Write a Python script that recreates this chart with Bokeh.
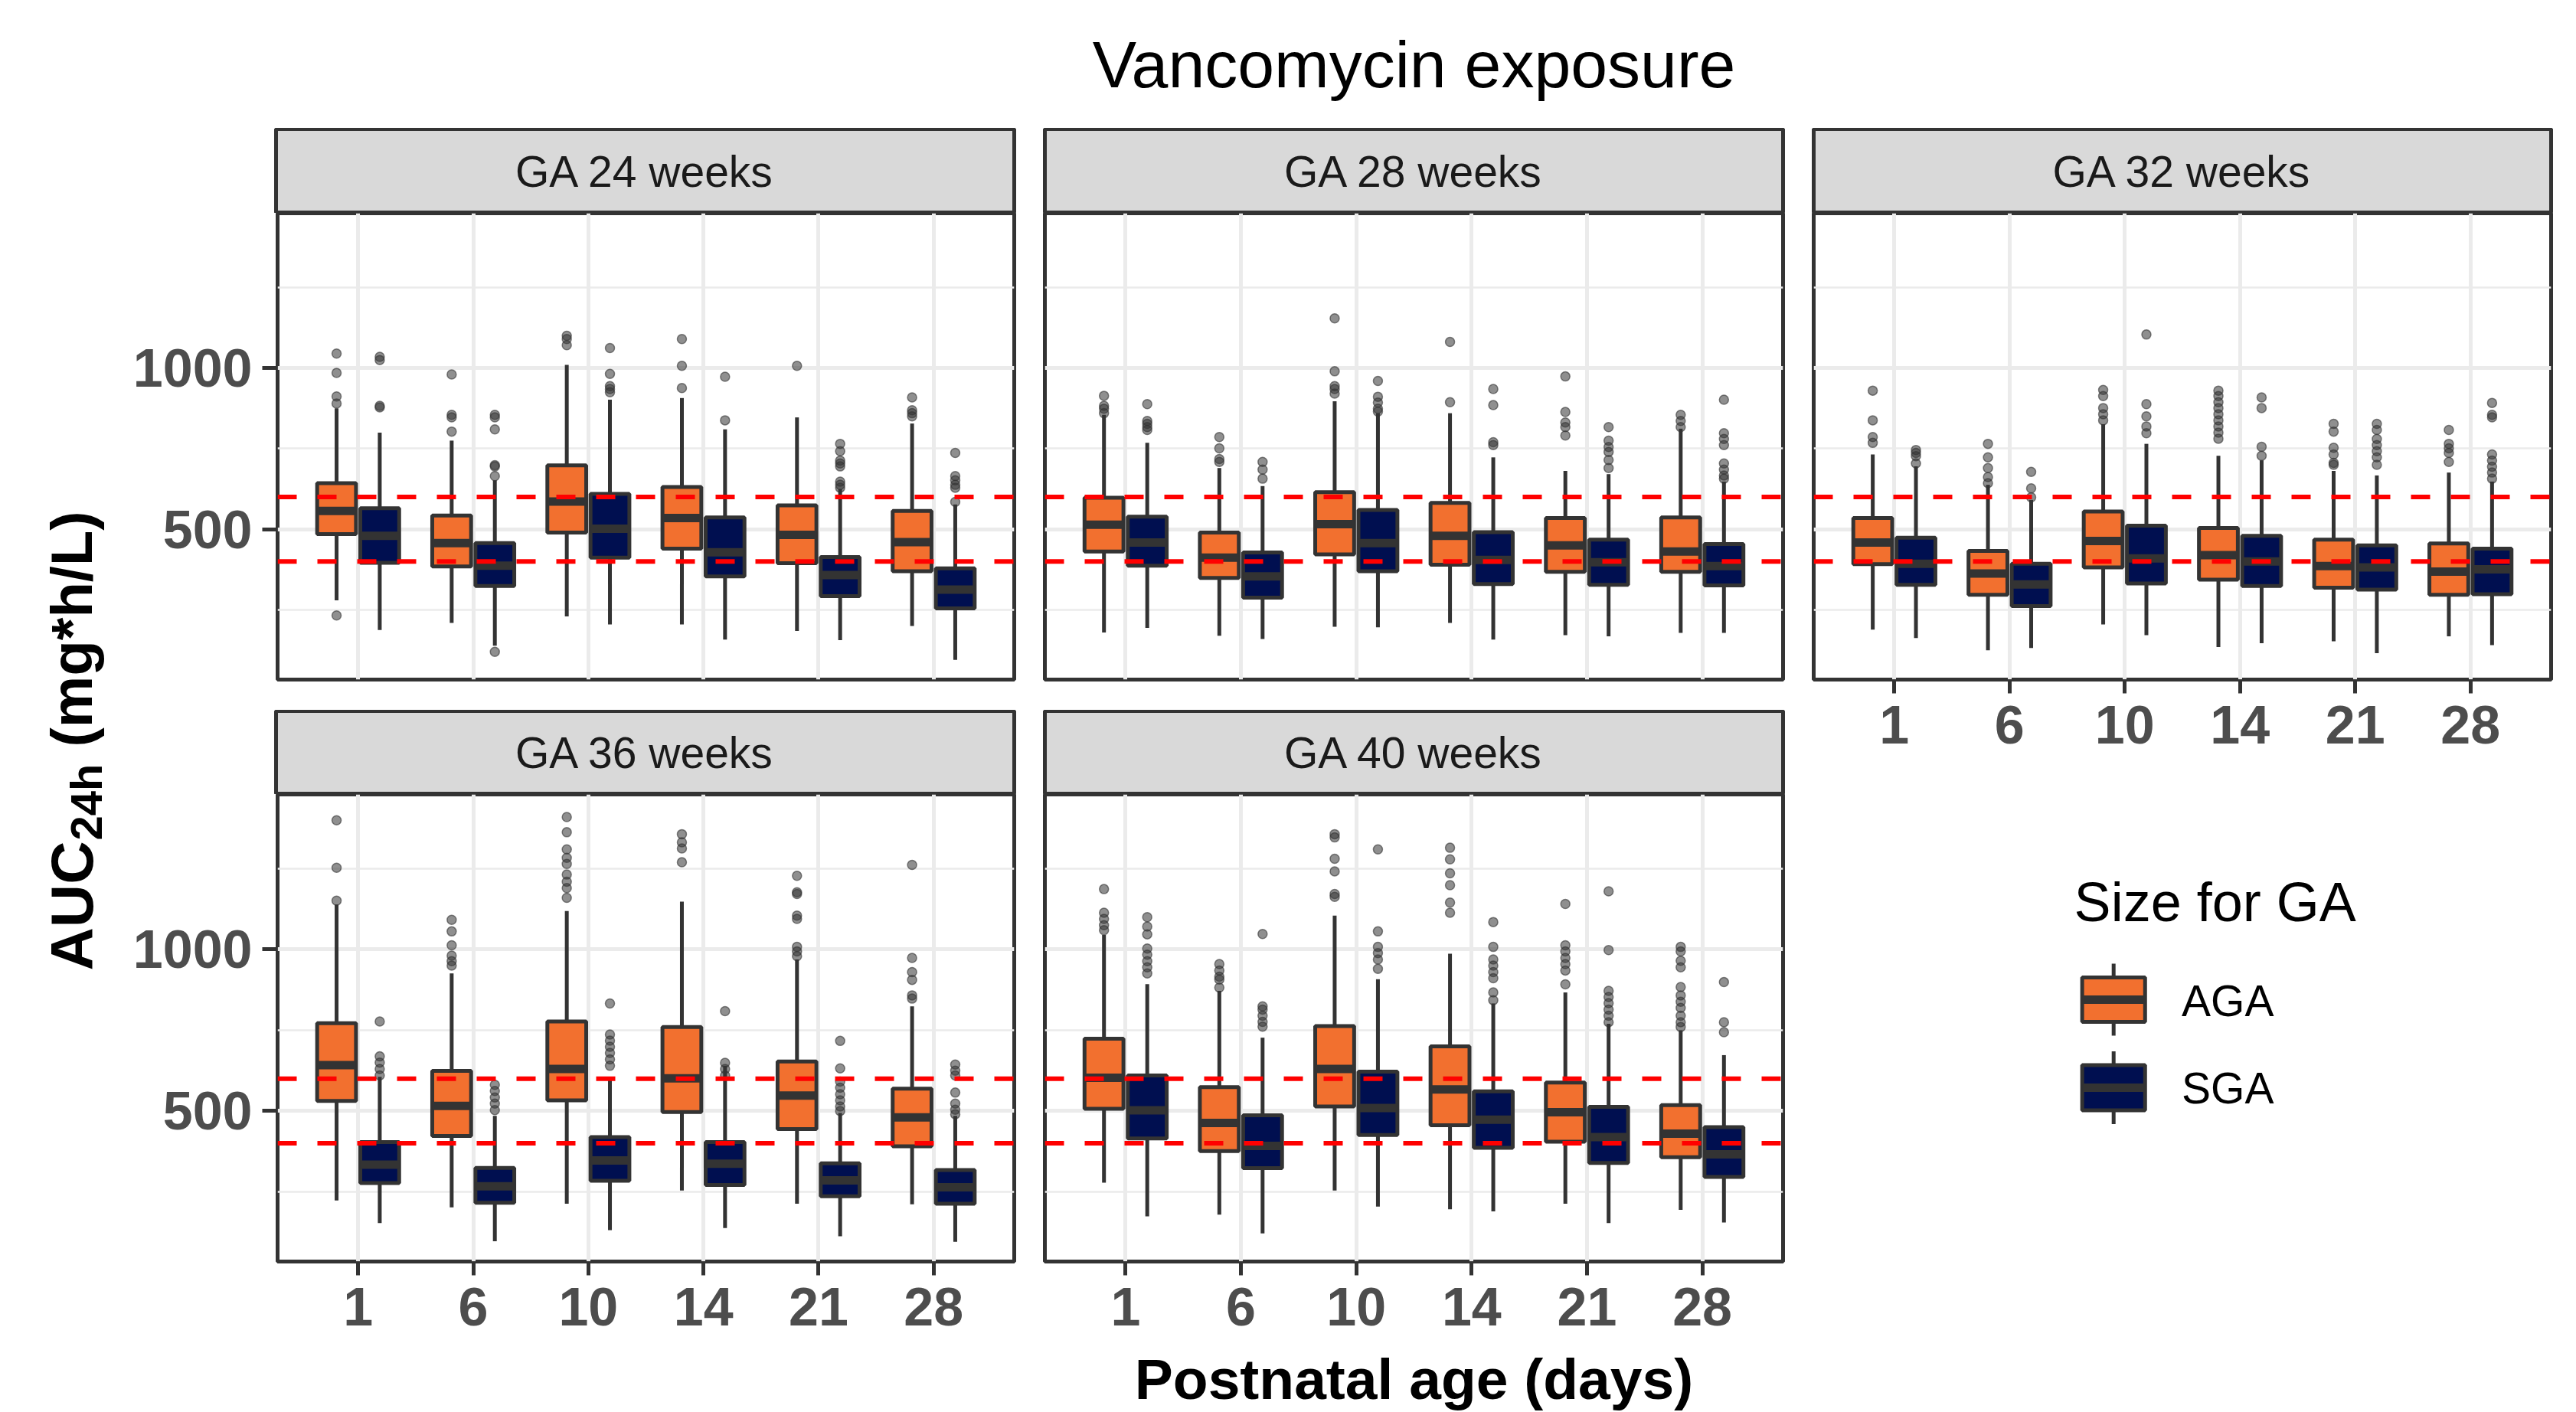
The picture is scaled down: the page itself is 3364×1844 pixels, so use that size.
import math
from bokeh.plotting import figure
from bokeh.models import FactorRange, Range1d, FixedTicker, Span, ColumnDataSource
from bokeh.transform import dodge
from bokeh.layouts import row, column
from bokeh.embed import file_html
from bokeh.resources import INLINE
from bokeh.core.properties import value

# ---------------- data ----------------
days = ["1", "6", "10", "14", "21", "28"]
groups = ["AGA", "SGA"]
facet_labels = ["GA 24 weeks", "GA 28 weeks", "GA 32 weeks", "GA 36 weeks", "GA 40 weeks"]
target_lines = [400, 600]
y_ticks = [500, 1000]
y_minor = [250, 750, 1250]
y_limits = [34, 1480]

# box statistics per postnatal day: low whisker, Q1, median, Q3, high whisker
ga24_aga = dict(low=[280, 210, 230, 205, 185, 200], q1=[485, 385, 490, 440, 395, 370],
                med=[557, 457, 586, 535, 483, 460], q3=[643, 543, 698, 631, 574, 557],
                high=[875, 775, 1010, 907, 847, 828])
ga24_sga = dict(low=[188, 139, 205, 158, 156, 95], q1=[396, 324, 412, 354, 293, 255],
                med=[480, 387, 502, 429, 358, 313], q3=[565, 457, 610, 537, 414, 379],
                high=[800, 652, 902, 810, 624, 577])
ga24_aga_out = [[1045, 985, 912, 890, 233], [980, 855, 847, 803], [1100, 1090, 1071],
                [1090, 1007, 938], [1007], [909, 869, 860, 850]]
ga24_sga_out = [[1035, 1025, 883, 878], [855, 847, 810, 699, 695, 665, 120],
                [1062, 982, 944, 935, 925], [973, 838],
                [765, 742, 713, 704, 695, 648, 638, 629], [737, 665, 652, 638, 629, 585]]

ga28_aga = dict(low=[180, 170, 198, 210, 172, 179], q1=[431, 349, 422, 390, 368, 368],
                med=[514, 412, 516, 480, 450, 431], q3=[598, 490, 615, 582, 535, 537],
                high=[855, 690, 897, 860, 681, 812])
ga28_sga = dict(low=[194, 160, 196, 158, 168, 179], q1=[387, 288, 370, 330, 328, 326],
                med=[459, 354, 457, 405, 398, 386], q3=[539, 428, 560, 491, 468, 454],
                high=[768, 634, 860, 723, 671, 648])
ga28_aga_out = [[914, 883, 874, 860], [786, 751, 718, 709], [1154, 990, 944, 935, 921],
                [1081, 894], [974, 864, 831, 817, 791], [855, 836, 817]]
ga28_sga_out = [[888, 836, 827, 817, 808], [709, 685, 657], [960, 911, 893, 874, 865],
                [935, 885, 770, 761], [817, 775, 755, 740, 715, 690],
                [902, 798, 780, 761, 704, 685, 667, 657]]

ga32_aga = dict(low=[189, 125, 205, 135, 153, 168], q1=[392, 297, 382, 344, 319, 297],
                med=[459, 363, 464, 420, 386, 369], q3=[535, 433, 555, 504, 468, 456],
                high=[732, 638, 826, 728, 681, 676])
ga32_sga = dict(low=[163, 132, 172, 147, 116, 141], q1=[328, 262, 332, 324, 313, 299],
                med=[393, 329, 410, 400, 382, 376], q3=[474, 393, 511, 480, 450, 440],
                high=[695, 591, 765, 714, 667, 648])
ga32_aga_out = [[930, 838, 786, 768], [765, 723, 690, 662, 643], [932, 913, 876, 857, 838],
                [930, 913, 894, 876, 857, 838, 819, 800, 781], [827, 803, 753, 732, 706, 700],
                [808, 765, 751, 737, 709]]
ga32_sga_out = [[746, 737, 727, 704], [678, 627, 599], [1104, 888, 850, 819, 798],
                [909, 876, 756, 728], [827, 808, 780, 761, 742, 723, 700],
                [892, 855, 847, 732, 713, 694, 676, 657]]

ga36_aga = dict(low=[223, 202, 213, 254, 213, 211], q1=[531, 423, 533, 497, 444, 391],
                med=[642, 516, 630, 601, 548, 480], q3=[772, 624, 777, 760, 653, 569],
                high=[1139, 926, 1119, 1148, 969, 824])
ga36_sga = dict(low=[153, 97, 131, 138, 112, 95], q1=[277, 216, 284, 271, 236, 213],
                med=[334, 267, 347, 337, 285, 264], q3=[404, 324, 419, 404, 338, 317],
                high=[606, 485, 606, 640, 494, 485])
ga36_aga_out = [[1400, 1253, 1151], [1092, 1056, 1013, 981, 964, 950],
                [1410, 1363, 1310, 1284, 1265, 1232, 1210, 1190, 1160], [1357, 1332, 1313, 1270],
                [1228, 1177, 1172, 1105, 1095, 1008, 994, 979], [1262, 974, 930, 906, 858, 848]]
ga36_sga_out = [[777, 669, 650, 630, 610], [581, 562, 542, 523, 503],
                [833, 737, 718, 699, 680, 660, 640], [809, 649, 630, 610],
                [717, 632, 591, 572, 552, 533, 514, 500], [644, 625, 610, 557, 523, 504, 490]]

ga40_aga = dict(low=[278, 179, 254, 196, 213, 194], q1=[507, 376, 514, 456, 405, 357],
                med=[603, 463, 630, 567, 496, 430], q3=[724, 574, 763, 700, 588, 518],
                high=[1045, 872, 1105, 987, 867, 750])
ga40_sga = dict(low=[174, 121, 204, 189, 153, 155], q1=[415, 323, 426, 386, 339, 296],
                med=[502, 392, 509, 473, 419, 366], q3=[610, 487, 622, 561, 513, 450],
                high=[893, 727, 908, 833, 770, 673])
ga40_aga_out = [[1187, 1114, 1095, 1075, 1060], [955, 935, 916, 907, 882],
                [1357, 1347, 1281, 1242, 1172, 1163], [1315, 1279, 1236, 1199, 1145, 1114],
                [1141, 1013, 994, 974, 955, 935, 892],
                [1008, 994, 965, 945, 884, 858, 838, 819, 795, 775, 760]]
ga40_sga_out = [[1100, 1071, 1047, 1003, 984, 964, 945, 926], [1048, 824, 814, 795, 776, 761],
                [1310, 1056, 1008, 989, 969, 940], [1085, 1008, 969, 950, 930, 911, 867, 843],
                [1180, 998, 872, 853, 834, 814, 795, 775], [899, 775, 744]]

panel_data = {
    "GA 24 weeks": (ga24_aga, ga24_aga_out, ga24_sga, ga24_sga_out),
    "GA 28 weeks": (ga28_aga, ga28_aga_out, ga28_sga, ga28_sga_out),
    "GA 32 weeks": (ga32_aga, ga32_aga_out, ga32_sga, ga32_sga_out),
    "GA 36 weeks": (ga36_aga, ga36_aga_out, ga36_sga, ga36_sga_out),
    "GA 40 weeks": (ga40_aga, ga40_aga_out, ga40_sga, ga40_sga_out),
}

# ---------------- style ----------------
FONT = "Liberation Sans"
AGA_COL = "#F2702F"
SGA_COL = "#000F50"
EDGE = "#333333"
GRID = "#EBEBEB"
TICKTXT = "#4D4D4D"
BOX_W = 0.3375
OFFSETS = {"AGA": -0.1875, "SGA": 0.1875}
COLORS = {"AGA": AGA_COL, "SGA": SGA_COL}
LW = 5


def blank_fig(w, h, xr, yr):
    p = figure(width=w, height=h, x_range=Range1d(*xr), y_range=Range1d(*yr),
               x_axis_location=None, y_axis_location=None, toolbar_location=None,
               output_backend="svg", min_border_left=0, min_border_right=0,
               min_border_top=0, min_border_bottom=0, outline_line_color=None,
               background_fill_color="white", border_fill_color="white")
    p.grid.visible = False
    return p


def add_group(p, stats, outs, grp):
    off = OFFSETS[grp]
    src = ColumnDataSource(dict(day=days, **stats))
    xc = dodge("day", off, range=p.x_range)
    p.segment(x0=xc, x1=xc, y0="q3", y1="high", source=src, line_color=EDGE, line_width=LW)
    p.segment(x0=xc, x1=xc, y0="low", y1="q1", source=src, line_color=EDGE, line_width=LW)
    p.vbar(x=xc, width=BOX_W, bottom="q1", top="q3", source=src,
           fill_color=COLORS[grp], line_color=EDGE, line_width=LW)
    p.segment(x0=dodge("day", off - BOX_W / 2, range=p.x_range),
              x1=dodge("day", off + BOX_W / 2, range=p.x_range),
              y0="med", y1="med", source=src, line_color=EDGE, line_width=2.2 * LW,
              line_cap="butt")
    od = [d for d, vals in zip(days, outs) for _ in vals]
    ov = [v for vals in outs for v in vals]
    osrc = ColumnDataSource(dict(day=od, val=ov))
    p.scatter(x=dodge("day", off, range=p.x_range), y="val", source=osrc, size=12,
              fill_color=EDGE, fill_alpha=0.55, line_color=EDGE, line_alpha=0.6,
              line_width=1.5)


def make_panel(label, w, h, mbl, mbr, mbb, xaxis, yaxis):
    p = figure(width=w, height=h,
               x_range=FactorRange(factors=days, range_padding=0.2, range_padding_units="absolute"),
               y_range=Range1d(*y_limits), toolbar_location=None, output_backend="svg",
               x_axis_location="below" if xaxis else None,
               y_axis_location="left" if yaxis else None,
               min_border_left=mbl, min_border_right=mbr, min_border_top=0,
               min_border_bottom=mbb, background_fill_color="white",
               border_fill_color="white", outline_line_color=EDGE, outline_line_width=LW)
    p.xgrid.grid_line_color = GRID
    p.xgrid.grid_line_width = LW
    p.ygrid.ticker = FixedTicker(ticks=y_ticks, minor_ticks=y_minor)
    p.ygrid.grid_line_color = GRID
    p.ygrid.grid_line_width = LW
    p.ygrid.minor_grid_line_color = GRID
    p.ygrid.minor_grid_line_width = 2.5
    axes = []
    if yaxis:
        p.yaxis.ticker = FixedTicker(ticks=y_ticks, minor_ticks=y_minor)
        p.yaxis.major_label_standoff = 13
        p.yaxis.major_tick_out = 20
        axes.append(p.yaxis[0])
    if xaxis:
        p.xaxis.major_label_standoff = 16
        p.xaxis.major_tick_out = 18
        axes.append(p.xaxis[0])
    for ax in axes:
        ax.axis_line_color = None
        ax.major_tick_line_color = EDGE
        ax.major_tick_line_width = LW
        ax.major_tick_in = 0
        ax.minor_tick_line_color = None
        ax.major_label_text_font = FONT
        ax.major_label_text_font_style = "bold"
        ax.major_label_text_font_size = "70px"
        ax.major_label_text_color = TICKTXT
    aga, aga_out, sga, sga_out = panel_data[label]
    add_group(p, aga, aga_out, "AGA")
    add_group(p, sga, sga_out, "SGA")
    for yv in target_lines:
        p.add_layout(Span(location=yv, dimension="width", line_color="#FF0000",
                          line_width=6, line_dash="25 27"))
    return p


def make_strip(label, w, h, mbl, mbr):
    p = figure(width=w, height=h, x_range=Range1d(0, 1), y_range=Range1d(0, 1),
               x_axis_location=None, y_axis_location=None, toolbar_location=None,
               output_backend="svg", min_border_left=mbl, min_border_right=mbr,
               min_border_top=1, min_border_bottom=0, background_fill_color="#D9D9D9",
               border_fill_color="white", outline_line_color=EDGE, outline_line_width=LW)
    p.grid.visible = False
    p.text(x=[0.5], y=[0.5], text=[label], text_align="center", text_baseline="middle",
           text_font=value(FONT), text_font_size="57px", text_color="#1A1A1A")
    return p


# ---------------- build layout ----------------
W1, W2, W3 = 1174, 1004, 1008
s1 = make_strip(facet_labels[0], W1, 111, 190, 20)
s2 = make_strip(facet_labels[1], W2, 111, 20, 20)
s3 = make_strip(facet_labels[2], W3, 111, 20, 25)
s4 = make_strip(facet_labels[3], W1, 110, 190, 20)
s5 = make_strip(facet_labels[4], W2, 110, 20, 20)

p1 = make_panel(facet_labels[0], W1, 649, 190, 20, 40, False, True)
p2 = make_panel(facet_labels[1], W2, 649, 20, 20, 40, False, False)
p3 = make_panel(facet_labels[2], W3, 719, 20, 25, 110, True, False)
p4 = make_panel(facet_labels[3], W1, 720, 190, 20, 110, True, True)
p5 = make_panel(facet_labels[4], W2, 720, 20, 20, 110, True, False)

# legend panel
leg = blank_fig(W3, 760, (0, W3), (0, 760))
leg.text(x=[356], y=[580], text=["Size for GA"], text_font=value(FONT),
         text_font_size="72px", text_color="black", text_align="left",
         text_baseline="middle")
key_y = {"AGA": (452, 58, 451), "SGA": (337, 59, 337)}
for grp in groups:
    cy, bh, ty = key_y[grp]
    leg.segment(x0=[410, 410], x1=[410, 410], y0=[cy + bh / 2, cy - bh / 2],
                y1=[cy + bh / 2 + 18, cy - bh / 2 - 18], line_color=EDGE, line_width=LW)
    leg.rect(x=[410], y=[cy], width=[86], height=[bh], fill_color=COLORS[grp],
             line_color=EDGE, line_width=LW)
    leg.segment(x0=[367], x1=[453], y0=[cy], y1=[cy], line_color=EDGE, line_width=2.2 * LW)
    leg.text(x=[503], y=[ty], text=[grp], text_font=value(FONT), text_font_size="57px",
             text_color="black", text_align="left", text_baseline="middle")

# title / axis titles
GW = W1 + W2 + W3
TH, XH = 167, 87
TOTAL_H = TH + 1590 + XH
title_fig = blank_fig(GW, TH, (0, GW), (0, TH))
title_fig.text(x=[1676], y=[84], text=["Vancomycin exposure"], text_font=value(FONT),
               text_font_size="86px", text_color="black", text_align="center",
               text_baseline="middle")

xt_fig = blank_fig(GW, XH, (0, GW), (0, XH))
xt_fig.text(x=[1676], y=[43.5], text=["Postnatal age (days)"], text_font=value(FONT),
            text_font_style="bold", text_font_size="75px", text_color="black",
            text_align="center", text_baseline="middle")

yt_fig = blank_fig(170, TOTAL_H, (0, 170), (0, TOTAL_H))
yt_fig.text(x=[93], y=[TOTAL_H - 1267], text=["AUC"], angle=math.pi / 2, text_font=value(FONT),
            text_font_style="bold", text_font_size="78px", text_color="black",
            text_align="left", text_baseline="middle")
yt_fig.text(x=[112], y=[TOTAL_H - 1097], text=["24h"], angle=math.pi / 2, text_font=value(FONT),
            text_font_style="bold", text_font_size="58px", text_color="black",
            text_align="left", text_baseline="middle")
yt_fig.text(x=[93], y=[TOTAL_H - 975], text=["(mg*h/L)"], angle=math.pi / 2,
            text_font=value(FONT), text_font_style="bold", text_font_size="76px",
            text_color="black", text_align="left", text_baseline="middle")

left_two = column(row(s1, s2), row(p1, p2), row(s4, s5), row(p4, p5))
col3 = column(s3, p3, leg)
grid_col = column(title_fig, row(left_two, col3), xt_fig)
layout = row(yt_fig, grid_col)

open("out.html", "w").write(file_html(layout, INLINE))
